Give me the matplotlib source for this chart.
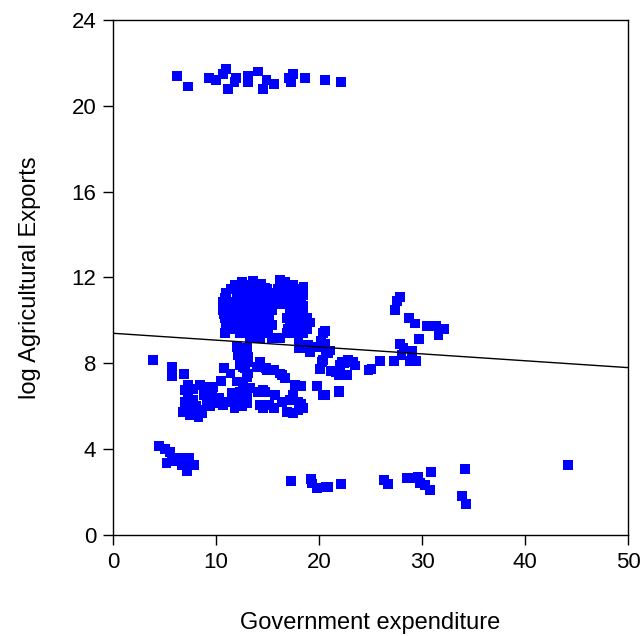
import matplotlib
matplotlib.use("Agg")
import matplotlib.pyplot as plt
import numpy as np

plt.rcParams['font.family'] = ['Liberation Sans', 'DejaVu Sans']

# group of observations with very high exports (top row)
top_x = [6.2, 7.3, 9.3, 10.0, 10.7, 11.0, 11.2, 11.9, 11.8, 13.1, 13.1, 14.1,
         14.9, 14.6, 15.6, 17.1, 17.5, 17.3, 18.6, 20.6, 22.1]
top_y = [21.4, 20.9, 21.3, 21.2, 21.5, 21.7, 20.8, 21.3, 21.1, 21.4, 21.1, 21.6,
         21.2, 20.8, 21.0, 21.3, 21.5, 21.1, 21.3, 21.2, 21.1]

# upper part of the main cluster (log exports 9-12)
upper_x = [11.85, 13.0, 13.8, 16.5, 17.5, 18.5, 16.2, 16.7, 12.5, 13.6, 14.4,
           11.0, 12.0, 13.3, 14.3, 15.6, 16.5, 17.35, 18.5, 12.4, 14.8,
           10.65, 11.5, 12.5, 13.6, 14.6, 15.9, 16.9, 17.8, 15.2,
           10.7, 11.7, 12.65, 13.6, 14.6, 15.4, 17.2, 18.2, 13.0,
           10.9, 11.85, 13.3, 14.3, 15.2, 16.9, 17.8, 18.8, 11.2, 14.0,
           11.0, 12.3, 13.6, 14.6, 15.4, 17.2, 18.2, 12.8,
           10.9, 12.3, 13.6, 14.9, 16.9, 17.8, 18.5,
           13.3, 14.3, 15.4, 16.2, 18.0,
           11.4, 13.6, 15.0, 16.0, 17.0, 18.0,
           10.9, 12.0, 13.0, 14.0, 15.1, 16.3, 17.4, 18.3,
           11.2, 12.0, 13.1, 14.1, 15.3, 16.4, 17.5, 18.5,
           10.8, 12.2, 13.1, 14.1, 15.1, 17.5, 18.5,
           11.4, 12.8, 14.0, 15.0, 17.5, 18.5,
           11.5, 13.2, 14.2, 15.1, 17.0, 18.0, 18.8]
upper_y = [11.65, 11.65, 11.65, 11.65, 11.65, 11.55, 11.88, 11.8, 11.8, 11.85, 11.7,
           11.26, 11.26, 11.26, 11.26, 11.26, 11.3, 11.26, 11.2, 11.5, 11.5,
           10.87, 10.87, 10.87, 10.87, 10.87, 10.87, 10.87, 10.87, 11.0,
           10.48, 10.48, 10.48, 10.48, 10.48, 10.48, 10.48, 10.48, 10.6,
           10.1, 10.1, 10.1, 10.1, 10.1, 10.1, 10.1, 10.1, 10.3, 10.0,
           9.79, 9.79, 9.79, 9.79, 9.79, 9.79, 9.79, 9.6,
           9.4, 9.4, 9.4, 9.4, 9.4, 9.4, 9.4,
           9.17, 9.17, 9.17, 9.17, 9.17,
           11.45, 11.45, 11.45, 11.45, 11.45, 11.45,
           11.07, 11.07, 11.07, 11.07, 11.07, 11.07, 11.07, 11.07,
           10.68, 10.68, 10.68, 10.68, 10.68, 10.75, 10.68, 10.68,
           10.3, 10.3, 10.3, 10.3, 10.3, 10.3, 10.3,
           9.95, 9.95, 9.95, 9.95, 9.95, 9.95,
           9.6, 9.6, 9.6, 9.6, 9.6, 9.6, 9.6]

# middle band (log exports 5.5-9)
mid_x = [12.0, 13.0, 12.15, 13.1, 12.3, 12.8, 12.2, 12.5, 12.65, 13.0, 13.0, 13.15,
         18.9, 19.8, 20.4, 20.2, 19.1, 20.6, 20.6,
         18.2, 19.1, 20.7, 20.3, 20.1, 21.2, 22.2, 22.8, 21.9, 22.7, 18.0, 20.9,
         20.4, 22.0, 22.4, 21.6, 22.0, 23.3, 22.4, 21.1, 23.5, 24.8,
         14.3, 14.9, 14.9, 13.95, 14.8, 15.6, 16.2, 16.4, 16.7,
         17.7, 18.3, 19.8, 20.4, 21.9, 20.6,
         14.1, 14.8, 14.6, 15.7, 17.5,
         14.3, 15.2, 16.4, 17.2, 18.0, 18.5, 17.5, 16.9, 15.6, 14.6, 18.0, 18.3,
         12.3, 12.65, 13.0, 13.3, 13.0, 13.0,
         3.9, 5.76, 5.76, 6.9, 10.8, 11.4, 10.5, 7.3, 7.0, 8.45, 8.9, 9.7,
         7.15, 6.8, 7.5, 8.3, 8.45, 7.8, 7.3, 8.8, 9.1, 9.6, 10.1, 10.7,
         11.2, 12.0, 12.3, 12.0, 12.65, 13.0,
         7.8, 8.1, 9.4, 7.0, 8.6, 10.3, 11.5, 12.5, 11.8, 7.4]
mid_y = [8.77, 8.74, 8.39, 8.31, 7.92, 7.77, 8.62, 8.23, 7.84, 8.54, 8.08, 7.53,
         8.85, 8.77, 9.4, 9.05, 9.9, 9.5, 8.9,
         8.7, 8.54, 8.54, 8.08, 7.72, 7.66, 8.08, 8.15, 7.45, 7.45, 8.7, 8.47,
         8.15, 7.92, 7.45, 7.6, 7.77, 8.08, 8.0, 8.6, 7.9, 7.7,
         8.08, 7.69, 7.77, 7.84, 7.77, 7.69, 7.53, 7.45, 7.3,
         6.99, 6.96, 6.96, 6.52, 6.68, 6.52,
         6.68, 6.68, 6.76, 6.52, 6.52,
         6.06, 6.06, 6.21, 6.29, 6.21, 5.9, 5.67, 5.75, 5.9, 5.9, 5.8, 6.1,
         6.68, 6.37, 6.14, 6.84, 6.37, 6.68,
         8.15, 7.84, 7.41, 7.49, 7.8, 7.53, 7.18, 6.99, 6.76, 6.99, 6.91, 6.91,
         5.98, 5.75, 5.59, 5.51, 5.82, 6.29, 6.52, 6.52, 6.21, 6.44, 6.14, 6.06,
         6.21, 6.29, 6.52, 7.15, 6.99, 7.38,
         6.8, 6.0, 6.0, 6.2, 5.7, 6.4, 6.6, 6.0, 5.9, 5.9]

# right-hand group
right_x = [27.9, 27.6, 27.4, 28.7, 29.3, 30.5, 31.4, 32.1, 31.6, 29.7, 27.9,
           28.2, 29.0, 28.0, 28.8, 29.4, 27.3, 25.9, 25.1, 21.9]
right_y = [11.1, 10.9, 10.5, 10.1, 9.86, 9.74, 9.74, 9.6, 9.32, 9.12, 8.9,
           8.7, 8.57, 8.39, 8.1, 8.1, 8.1, 8.1, 7.72, 6.7]

# low exports
low_x = [4.5, 5.05, 5.5, 5.2, 6.0, 6.5, 7.0, 7.4, 7.3, 7.9, 7.2, 6.7, 5.7,
         17.25, 19.2, 19.3, 19.8, 20.7, 20.9, 22.1, 26.3, 26.7, 28.5, 29.0,
         29.6, 29.8, 30.3, 30.8, 30.9, 34.2, 33.9, 34.3, 44.2]
low_y = [4.15, 4.0, 3.85, 3.35, 3.6, 3.45, 3.6, 3.6, 3.35, 3.25, 3.0, 3.25, 3.45,
         2.53, 2.6, 2.4, 2.18, 2.22, 2.25, 2.36, 2.56, 2.38, 2.64, 2.67,
         2.72, 2.44, 2.33, 2.1, 2.92, 3.08, 1.82, 1.44, 3.25]

# fitted regression line
fit_intercept = 9.4
fit_slope = -0.032

x = np.array(top_x + upper_x + mid_x + right_x + low_x)
y = np.array(top_y + upper_y + mid_y + right_y + low_y)

fig = plt.figure(figsize=(6.44, 6.36), dpi=100)
ax = fig.add_axes([0.1755, 0.1588, 0.7997, 0.8098])

ax.scatter(x, y, marker='s', s=50, color='#0000ff', edgecolors='none', zorder=2)

xs = np.array([0, 50])
ax.plot(xs, fit_intercept + fit_slope * xs, color='black', lw=1, zorder=3)

ax.set_xlim(0, 50)
ax.set_ylim(0, 24)
ax.set_xticks(np.arange(0, 51, 10))
ax.set_yticks(np.arange(0, 25, 4))
ax.tick_params(direction='out', length=7, width=1, labelsize=16, pad=5)
for s in ax.spines.values():
    s.set_linewidth(1)

ax.set_xlabel('Government expenditure', fontsize=17, labelpad=28)
ax.set_ylabel('log Agricultural Exports', fontsize=17, labelpad=22)

fig.savefig('out.png', dpi=100)
